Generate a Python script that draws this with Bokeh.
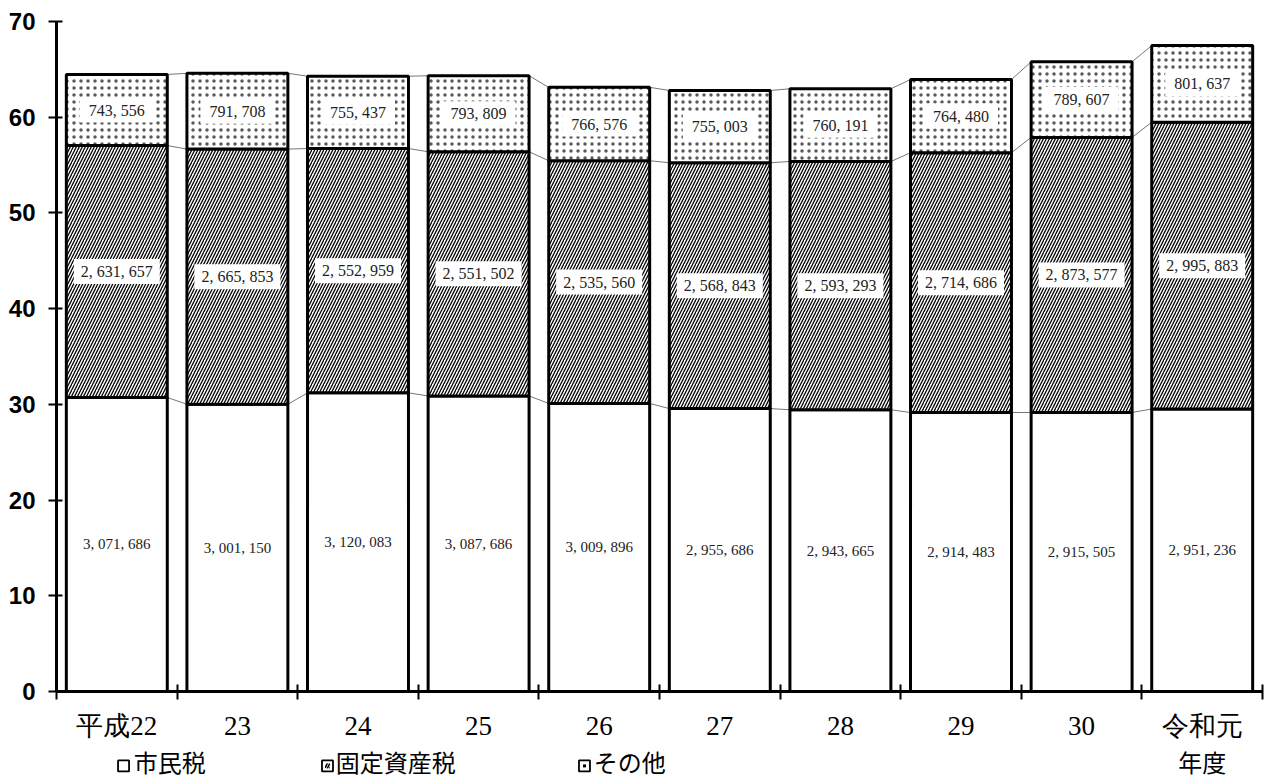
from bokeh.plotting import figure
from bokeh.layouts import column
from bokeh.models import ColumnDataSource, Range1d, FixedTicker
from bokeh.core.properties import value
from bokeh.embed import file_html
from bokeh.resources import INLINE

years = ["平成22", "23", "24", "25", "26", "27", "28", "29", "30", "令和元"]
shiminzei = [3071686, 3001150, 3120083, 3087686, 3009896, 2955686, 2943665, 2914483, 2915505, 2951236]
koteishisanzei = [2631657, 2665853, 2552959, 2551502, 2535560, 2568843, 2593293, 2714686, 2873577, 2995883]
sonota = [743556, 791708, 755437, 793809, 766576, 755003, 760191, 764480, 789607, 801637]
y_ticks = [0, 10, 20, 30, 40, 50, 60, 70]
legend_names = ["市民税", "固定資産税", "その他"]
last_line = "年度"

UNIT = 100000  # 千円 -> 億円
BAR_W = 0.837
LEGEND_MARK_X = [0.556, 2.247, 4.378]   # legend square centres (category units)
LEGEND_TEXT_X = [0.640, 2.315, 4.455]   # legend text left edges (category units)

n = len(years)
xs = [i + 0.5 for i in range(n)]
t0 = [v / UNIT for v in shiminzei]
t1 = [a + b / UNIT for a, b in zip(t0, koteishisanzei)]
t2 = [a + b / UNIT for a, b in zip(t1, sonota)]
zeros = [0] * n

def fmt(v):
    return f"{v:,}".replace(",", ", ")

src = ColumnDataSource(dict(
    x=xs, b0=zeros, t0=t0, t1=t1, t2=t2,
    m0=[t / 2 for t in t0],
    m1=[(a + b) / 2 for a, b in zip(t0, t1)],
    m2=[(a + b) / 2 for a, b in zip(t1, t2)],
    l0=[fmt(v) for v in shiminzei],
    l1=[fmt(v) for v in koteishisanzei],
    l2=[fmt(v) for v in sonota],
))

xr = Range1d(0, n)
p = figure(width=1265, height=743, output_backend="svg", toolbar_location=None,
           x_range=xr, y_range=Range1d(0, 70),
           min_border_left=56, min_border_right=3, min_border_top=21, min_border_bottom=51)
p.outline_line_color = None
p.grid.visible = False
p.background_fill_color = "white"

# connecting lines between bars
cx0 = [x + BAR_W / 2 for x in xs[:-1]]
cx1 = [x - BAR_W / 2 for x in xs[1:]]
for tops in (t0, t1, t2):
    p.segment(x0=cx0, y0=tops[:-1], x1=cx1, y1=tops[1:], line_color="#777777", line_width=1)

p.vbar(x="x", bottom="b0", top="t0", width=BAR_W, source=src,
       fill_color="white", line_color="black", line_width=3)
p.vbar(x="x", bottom="t0", top="t1", width=BAR_W, source=src,
       fill_color="white", line_color="black", line_width=3,
       hatch_pattern="/", hatch_color="black", hatch_scale=6, hatch_weight=1.3)
p.vbar(x="x", bottom="t1", top="t2", width=BAR_W, source=src,
       fill_color="white", line_color="black", line_width=3,
       hatch_pattern=".", hatch_color="black", hatch_scale=7, hatch_weight=0.4, hatch_alpha=0.65)

lab_font = value("Liberation Serif")
p.text(x="x", y="m0", text="l0", source=src, text_align="center", text_baseline="middle",
       text_font=lab_font, text_font_size="15px", text_color="#222222")
p.text(x="x", y="m1", text="l1", source=src, text_align="center", text_baseline="middle",
       text_font=lab_font, text_font_size="16px", text_color="#222222",
       background_fill_color="white", padding=(7, 4))
p.text(x="x", y="m2", text="l2", source=src, text_align="center", text_baseline="middle",
       text_font=lab_font, text_font_size="16px", text_color="#222222",
       background_fill_color="white", padding=(9, 4))

# y axis
ya = p.yaxis[0]
ya.ticker = FixedTicker(ticks=y_ticks)
ya.axis_line_width = 3
ya.axis_line_color = "black"
ya.major_tick_line_width = 2
ya.major_tick_in = 6
ya.major_tick_out = 8
ya.minor_tick_line_color = None
ya.major_label_text_font = "Liberation Sans"
ya.major_label_text_font_style = "bold"
ya.major_label_text_font_size = "24px"
ya.major_label_text_color = "black"
ya.major_label_standoff = 13

# x axis: labels at centres, tick marks at boundaries (minor ticks)
xa = p.xaxis[0]
xa.ticker = FixedTicker(ticks=xs, minor_ticks=list(range(n + 1)))
xa.major_label_overrides = {x: y for x, y in zip(xs, years)}
xa.axis_line_width = 3
xa.axis_line_color = "black"
xa.major_tick_line_color = None
xa.minor_tick_line_color = "black"
xa.minor_tick_line_width = 2
xa.minor_tick_in = 7
xa.minor_tick_out = 8
xa.major_label_text_font = "Liberation Serif"
xa.major_label_text_font_size = "27px"
xa.major_label_text_color = "black"
xa.major_label_standoff = 11

# bottom strip: legend and second line of the last category label
q = figure(width=1265, height=35, output_backend="svg", toolbar_location=None,
           x_range=xr, y_range=Range1d(0, 1),
           min_border_left=56, min_border_right=3, min_border_top=0, min_border_bottom=0)
q.axis.visible = False
q.grid.visible = False
q.outline_line_color = None

mk_y = [0.36] * len(legend_names)
q.rect(x=LEGEND_MARK_X, y=mk_y, width=11, height=11, width_units="screen", height_units="screen",
       fill_color="white", line_color="black", line_width=1.8)
q.rect(x=[LEGEND_MARK_X[1]], y=[0.36], width=5, height=5, width_units="screen", height_units="screen",
       fill_color="white", line_color=None,
       hatch_pattern="/", hatch_color="black", hatch_scale=5, hatch_weight=1.6)
q.scatter(x=[LEGEND_MARK_X[2]], y=[0.36], marker="square", size=3, fill_color="black", line_color=None)

q.text(x=LEGEND_TEXT_X, y=[0.5] * len(legend_names), text=legend_names,
       text_align="left", text_baseline="middle",
       text_font=value("Noto Sans CJK JP"), text_font_size="24px", text_color="black")
q.text(x=[xs[-1]], y=[0.5], text=[last_line], text_align="center", text_baseline="middle",
       text_font=value("Noto Sans CJK JP"), text_font_size="24px", text_color="black")

layout = column(p, q, spacing=0)
open("out.html", "w").write(file_html(layout, INLINE))
